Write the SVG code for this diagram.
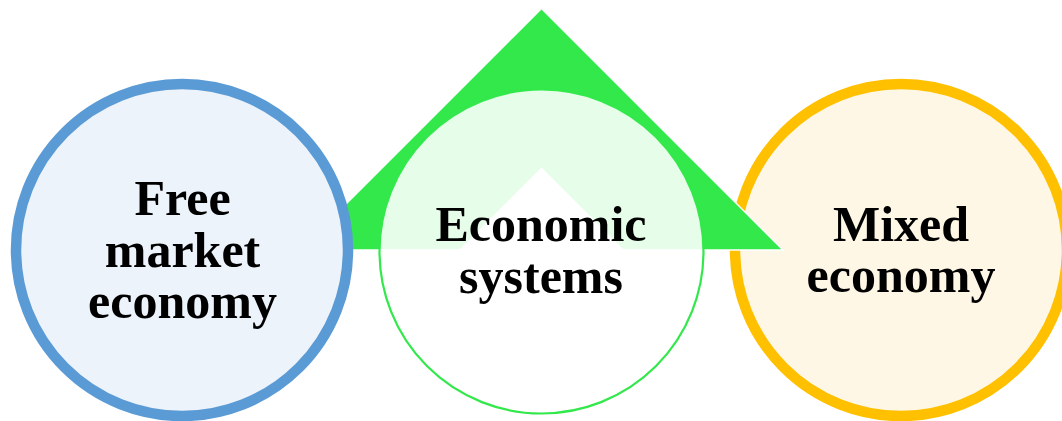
<svg xmlns="http://www.w3.org/2000/svg" width="1062" height="421" viewBox="0 0 1062 421">
<style>
.lbl{font-family:"Liberation Serif","Times New Roman",serif;font-weight:bold;font-size:50px;fill:#000;text-anchor:middle}
</style>
<rect width="1062" height="421" fill="#ffffff"/>
<g id="mixed-economy">
<circle cx="901" cy="250" r="166" fill="#fff7e5" stroke="#ffc000" stroke-width="10.5"/>
<text class="lbl" x="901" y="241">Mixed</text>
<text class="lbl" x="901" y="292">economy</text>
</g>
<g id="connectors">
<path d="M541.5 8.5 L783 250 L300 250 Z M541.5 168.5 L460 250 L623 250 Z" fill="#32e84b" fill-rule="evenodd" stroke="#ffffff" stroke-width="1.5" stroke-linejoin="miter"/>
</g>
<g id="free-market-economy">
<circle cx="182" cy="250" r="166" fill="#edf3fa" stroke="#5b9bd5" stroke-width="10.5"/>
<text class="lbl" x="182.5" y="215">Free</text>
<text class="lbl" x="182.5" y="267">market</text>
<text class="lbl" x="182.5" y="318">economy</text>
</g>
<g id="economic-systems">
<circle cx="541.5" cy="251.5" r="162" fill="#ffffff" fill-opacity="0.88" stroke="#32e84b" stroke-width="2.2"/>
<text class="lbl" x="541" y="241">Economic</text>
<text class="lbl" x="541" y="293">systems</text>
</g>
</svg>
